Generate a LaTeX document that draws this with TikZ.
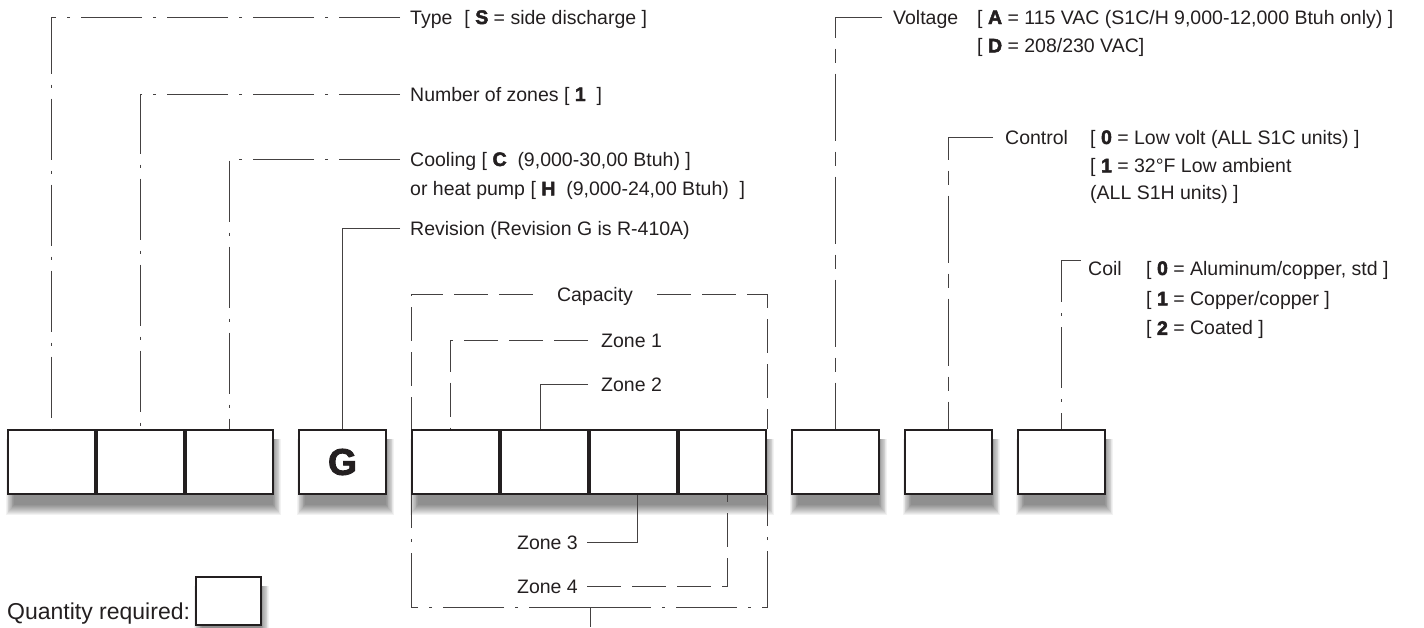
\documentclass[tikz,border=0pt]{standalone}
\usepackage{fontspec}
\setmainfont{Liberation Sans}
\newfontfamily\heavy[FakeBold=2.5]{Liberation Sans Bold}
\usetikzlibrary{positioning,backgrounds}
\definecolor{ink}{HTML}{231F20}
\newcommand{\opt}[1]{{\heavy #1}}
\tikzset{
    digit/.style = {rectangle, draw = ink, line width = 2.2pt, fill = white, inner sep = 0pt,
        minimum width = 86.8pt, minimum height = 63.8pt},
    entry/.style = {text = ink, inner sep = 0pt, text height = 14pt, text depth = 0pt,
        font = \fontsize{19.5}{23}\selectfont},
    leader/.style = {draw = ink!85, line width = 1pt},
    dashdot/.style = {leader, dash pattern = on 61pt off 11pt on 3pt off 11pt},
    dashlong/.style = {leader, dash pattern = on 34pt off 11pt},
    dashmid/.style = {leader, dash pattern = on 67pt off 11pt on 14pt off 11pt},
    spaced/.style = {shorten < = #1},
    spaced/.default = 10pt
}
\begin{document}
\begin{tikzpicture}[x = 1pt, y = -1pt]
    \useasboundingbox (0, 0) rectangle (1424, 627);
    % model number boxes
    \node [digit, anchor = north west] (b1) at (7, 429) {};
    \node [digit, right = 0pt of b1] (b2) {};
    \node [digit, right = 0pt of b2] (b3) {};
    \node [digit, right = 24pt of b3, text = ink, font = \heavy\fontsize{37}{38}\selectfont] (b4) {G};
    \node [digit, right = 24pt of b4] (b5) {};
    \node [digit, right = 0pt of b5] (b6) {};
    \node [digit, right = 0pt of b6] (b7) {};
    \node [digit, right = 0pt of b7] (b8) {};
    \node [digit, right = 24pt of b8] (b9) {};
    \node [digit, right = 24pt of b9] (b10) {};
    \node [digit, right = 24pt of b10] (b11) {};

    % left labels
    \node [entry, anchor = west] (type) at (410, 17) {Type\hspace{12pt}[ \opt{S} = side discharge ]};
    \node [entry, anchor = west] (zones) at (410, 94) {Number of zones [ \opt{1}\ \ ]};
    \node [entry, anchor = west] (cool) at (410, 159) {Cooling [ \opt{C}\ \ (9,000-30,00 Btuh) ]};
    \node [entry, below right = 15pt and 0pt of cool.south west] (heat) {or heat pump [ \opt{H}\ \ (9,000-24,00 Btuh)\ \ ]};
    \node [entry, anchor = west] (rev) at (410, 228) {Revision (Revision G is R-410A)};

    % capacity
    \node [entry, inner xsep = 24pt] (cap) at (595, 294) {Capacity};
    \node [entry, anchor = west] (zone1) at (601, 340) {Zone 1};
    \node [entry, anchor = west] (zone2) at (601, 384) {Zone 2};
    \node [entry, anchor = east] (zone3) at (578, 542) {Zone 3};
    \node [entry, anchor = east] (zone4) at (578, 586) {Zone 4};
    \coordinate (capbot) at (590, 607);
    \coordinate (capout) at (590, 627);

    % right labels
    \node [entry, anchor = west] (volt) at (893, 17) {Voltage};
    \node [entry, anchor = west] (voltA) at (977, 17) {[ \opt{A} = 115 VAC (S1C/H 9,000-12,000 Btuh only) ]};
    \node [entry, below right = 14pt and 0pt of voltA.south west] (voltD) {[ \opt{D} = 208/230 VAC]};
    \node [entry, anchor = west] (ctrl) at (1005, 137) {Control};
    \node [entry, anchor = west] (ctrl0) at (1090, 137) {[ \opt{0} = Low volt (ALL S1C units) ]};
    \node [entry, below right = 14pt and 0pt of ctrl0.south west] (ctrl1) {[ \opt{1} = 32°F Low ambient};
    \node [entry, below right = 13pt and 0pt of ctrl1.south west] (ctrl2) {(ALL S1H units) ]};
    \node [entry, anchor = west] (coil) at (1088, 268) {Coil};
    \node [entry, anchor = west] (coil0) at (1146, 268) {[ \opt{0} = Aluminum/copper, std ]};
    \node [entry, below right = 16pt and 0pt of coil0.south west] (coil1) {[ \opt{1} = Copper/copper ]};
    \node [entry, below right = 15pt and 0pt of coil1.south west] (coil2) {[ \opt{2} = Coated ]};

    % quantity
    \node [entry, anchor = west, text height = 16.5pt, font = \fontsize{23}{27}\selectfont] (qty) at (7, 611) {Quantity required:};
    \node [digit, anchor = south west, minimum width = 64.8pt, minimum height = 48pt] (qbox) at (195, 626) {};

    % soft shadows under each group of boxes
    \begin{scope}[on background layer]
        \foreach \from/\to in {b1/b3, b4/b4, b5/b8, b9/b9, b10/b10, b11/b11, qbox/qbox}
            \foreach \s in {0,...,10}
                \fill [black, opacity = 0.05]
                    ([xshift = 7pt - 0.8*\s pt, yshift = -10pt - \s pt]\from.south west)
                    rectangle ([xshift = -1pt + 0.8*\s pt, yshift = -10pt]\to.north east);
    \end{scope}

    % leaders, drawn from the label to the box
    \draw [dashdot, spaced] (type.west) -| (b1.north);
    \draw [dashdot, spaced] (zones.west) -| (b2.north);
    \draw [dashdot, spaced] (cool.west) -| (b3.north);
    \draw [leader, spaced] (rev.west) -| (b4.north);
    \draw [dashlong] (cap.west) -| (b5.north west);
    \draw [dashlong] (cap.east) -| (b8.north east);
    \draw [dashdot] (capbot) -| (b5.south west);
    \draw [dashdot] (capbot) -| (b8.south east);
    \draw [leader] (capbot) -- (capout);
    \draw [dashlong, spaced = 13pt] (zone1.west) -| ([xshift = -5pt]b5.north);
    \draw [leader, spaced = 13pt] (zone2.west) -| ([xshift = -4pt]b6.north);
    \draw [leader, spaced = 9pt] (zone3.east) -| ([xshift = 4pt]b7.south);
    \draw [dashlong, spaced = 9pt] (zone4.east) -| ([xshift = 5pt]b8.south);
    \draw [dashmid, spaced = 11pt] (volt.west) -| (b9.north);
    \draw [dashmid, spaced = 12pt] (ctrl.west) -| (b10.north);
    \draw [dashdot, spaced = 7pt] (coil.north west) -| (b11.north);
\end{tikzpicture}
\end{document}
